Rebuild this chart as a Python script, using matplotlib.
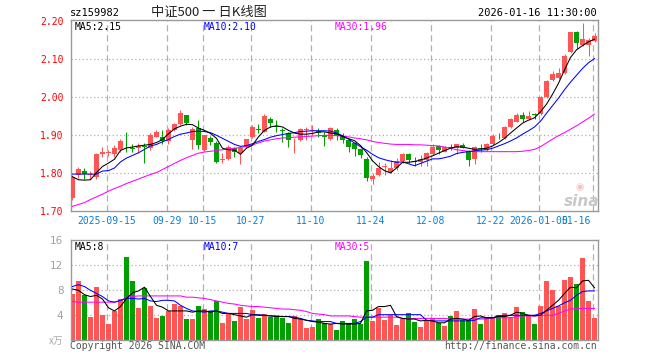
import matplotlib
matplotlib.use("Agg")
import matplotlib.pyplot as plt
import matplotlib.transforms as mtransforms
import numpy as np

# ---------------- data ----------------
date_labels = ["2025-09-15", "09-29", "10-15", "10-27", "11-10", "11-24",
               "12-08", "12-22", "2026-01-05", "01-16"]
date_index = [6, 16, 22, 30, 40, 50, 60, 70, 78, 87]

opens = [1.734, 1.796, 1.807, 1.795, 1.791, 1.850, 1.854, 1.851, 1.861, 1.878,
         1.866, 1.866, 1.873, 1.866, 1.896, 1.895, 1.886, 1.914, 1.930, 1.954,
         1.888, 1.918, 1.861, 1.894, 1.881, 1.836, 1.838, 1.866, 1.854, 1.868,
         1.896, 1.917, 1.910, 1.943, 1.924, 1.915, 1.905, 1.884, 1.888, 1.914,
         1.912, 1.911, 1.901, 1.889, 1.914, 1.898, 1.888, 1.879, 1.863, 1.838,
         1.786, 1.796, 1.816, 1.804, 1.814, 1.832, 1.850, 1.833, 1.831, 1.835,
         1.850, 1.872, 1.857, 1.868, 1.866, 1.875, 1.860, 1.837, 1.867, 1.861,
         1.877, 1.899, 1.892, 1.921, 1.936, 1.954, 1.942, 1.955, 1.956, 2.000,
         2.046, 2.050, 2.063, 2.120, 2.171, 2.138, 2.137, 2.149]
highs = [1.795, 1.817, 1.815, 1.806, 1.853, 1.868, 1.861, 1.874, 1.889, 1.910,
         1.876, 1.881, 1.880, 1.905, 1.914, 1.914, 1.920, 1.932, 1.967, 1.954,
         1.923, 1.940, 1.902, 1.897, 1.886, 1.853, 1.875, 1.870, 1.868, 1.890,
         1.927, 1.930, 1.955, 1.949, 1.940, 1.918, 1.910, 1.892, 1.920, 1.923,
         1.927, 1.920, 1.910, 1.923, 1.918, 1.905, 1.892, 1.883, 1.866, 1.844,
         1.802, 1.829, 1.826, 1.835, 1.839, 1.853, 1.853, 1.842, 1.848, 1.857,
         1.877, 1.875, 1.872, 1.876, 1.878, 1.879, 1.862, 1.872, 1.877, 1.879,
         1.903, 1.907, 1.925, 1.946, 1.960, 1.962, 1.965, 1.960, 2.004, 2.046,
         2.068, 2.076, 2.114, 2.173, 2.175, 2.196, 2.155, 2.168]
lows = [1.729, 1.787, 1.784, 1.786, 1.784, 1.842, 1.845, 1.844, 1.857, 1.855,
        1.855, 1.853, 1.828, 1.861, 1.895, 1.877, 1.877, 1.912, 1.926, 1.926,
        1.863, 1.864, 1.858, 1.875, 1.826, 1.826, 1.835, 1.844, 1.825, 1.866,
        1.892, 1.905, 1.908, 1.923, 1.910, 1.883, 1.868, 1.854, 1.886, 1.888,
        1.901, 1.896, 1.873, 1.888, 1.888, 1.879, 1.857, 1.846, 1.841, 1.780,
        1.772, 1.793, 1.796, 1.800, 1.809, 1.828, 1.828, 1.819, 1.818, 1.818,
        1.848, 1.851, 1.855, 1.861, 1.851, 1.866, 1.820, 1.825, 1.857, 1.859,
        1.874, 1.889, 1.890, 1.919, 1.934, 1.936, 1.940, 1.942, 1.954, 1.998,
        2.044, 2.047, 2.061, 2.117, 2.128, 2.135, 2.108, 2.146]
closes = [1.790, 1.811, 1.798, 1.797, 1.852, 1.857, 1.856, 1.866, 1.886, 1.876,
          1.865, 1.872, 1.868, 1.901, 1.910, 1.886, 1.914, 1.930, 1.960, 1.932,
          1.917, 1.875, 1.900, 1.883, 1.831, 1.838, 1.868, 1.857, 1.866, 1.889,
          1.923, 1.915, 1.952, 1.932, 1.922, 1.912, 1.888, 1.886, 1.917, 1.916,
          1.914, 1.906, 1.895, 1.920, 1.898, 1.888, 1.870, 1.863, 1.848, 1.787,
          1.794, 1.815, 1.818, 1.815, 1.833, 1.850, 1.835, 1.829, 1.838, 1.853,
          1.870, 1.862, 1.870, 1.867, 1.876, 1.866, 1.835, 1.868, 1.865, 1.877,
          1.898, 1.897, 1.921, 1.942, 1.954, 1.943, 1.951, 1.953, 2.002, 2.044,
          2.061, 2.065, 2.109, 2.171, 2.142, 2.153, 2.150, 2.161]
ma5 = [1.791, 1.783, 1.782, 1.783, 1.802, 1.818, 1.827, 1.837, 1.860, 1.867,
       1.869, 1.872, 1.874, 1.876, 1.881, 1.889, 1.904, 1.917, 1.924, 1.929,
       1.928, 1.919, 1.913, 1.905, 1.892, 1.866, 1.862, 1.861, 1.850, 1.866,
       1.874, 1.896, 1.913, 1.922, 1.925, 1.922, 1.913, 1.906, 1.903, 1.903,
       1.905, 1.909, 1.909, 1.906, 1.904, 1.897, 1.891, 1.886, 1.873, 1.855,
       1.833, 1.818, 1.807, 1.801, 1.814, 1.829, 1.829, 1.831, 1.835, 1.840,
       1.846, 1.853, 1.860, 1.866, 1.870, 1.869, 1.866, 1.863, 1.864, 1.866,
       1.872, 1.881, 1.892, 1.906, 1.919, 1.932, 1.940, 1.946, 1.962, 1.982,
       2.008, 2.037, 2.072, 2.105, 2.125, 2.136, 2.146, 2.153]
ma10 = [1.798, 1.798, 1.798, 1.798, 1.798, 1.806, 1.807, 1.814, 1.830, 1.840,
        1.847, 1.854, 1.863, 1.872, 1.876, 1.883, 1.889, 1.897, 1.903, 1.906,
        1.910, 1.911, 1.910, 1.907, 1.900, 1.892, 1.884, 1.876, 1.871, 1.873,
        1.878, 1.884, 1.889, 1.895, 1.899, 1.902, 1.905, 1.907, 1.910, 1.911,
        1.912, 1.912, 1.912, 1.911, 1.906, 1.899, 1.890, 1.880, 1.870, 1.861,
        1.850, 1.841, 1.836, 1.832, 1.829, 1.830, 1.825, 1.820, 1.826, 1.832,
        1.838, 1.838, 1.841, 1.845, 1.852, 1.855, 1.857, 1.859, 1.861, 1.862,
        1.866, 1.872, 1.878, 1.885, 1.893, 1.903, 1.912, 1.922, 1.937, 1.958,
        1.978, 1.998, 2.020, 2.040, 2.058, 2.076, 2.091, 2.102]
ma30 = [1.713, 1.718, 1.723, 1.731, 1.738, 1.745, 1.753, 1.760, 1.766, 1.773,
        1.779, 1.785, 1.791, 1.797, 1.802, 1.810, 1.818, 1.826, 1.834, 1.841,
        1.847, 1.853, 1.856, 1.858, 1.860, 1.862, 1.864, 1.866, 1.868, 1.871,
        1.875, 1.880, 1.885, 1.888, 1.891, 1.893, 1.894, 1.895, 1.896, 1.897,
        1.898, 1.899, 1.900, 1.900, 1.899, 1.898, 1.896, 1.893, 1.891, 1.888,
        1.884, 1.881, 1.879, 1.877, 1.876, 1.876, 1.876, 1.875, 1.875, 1.874,
        1.873, 1.872, 1.869, 1.866, 1.862, 1.860, 1.858, 1.857, 1.857, 1.857,
        1.857, 1.857, 1.857, 1.857, 1.857, 1.858, 1.860, 1.863, 1.870, 1.880,
        1.890, 1.899, 1.907, 1.916, 1.925, 1.935, 1.945, 1.956]

volume = [7.4, 9.5, 7.3, 3.8, 8.6, 4.0, 2.6, 4.7, 6.6, 13.3,
          9.5, 5.2, 8.3, 5.5, 3.5, 3.9, 4.7, 5.8, 5.5, 3.4,
          3.4, 5.5, 5.0, 4.7, 6.3, 2.8, 4.2, 3.1, 5.3, 3.4,
          4.8, 3.5, 4.2, 3.8, 3.9, 3.5, 2.8, 3.9, 3.4, 2.0,
          2.1, 3.4, 2.7, 2.6, 1.6, 3.1, 2.7, 3.4, 2.6, 12.7,
          3.1, 5.1, 3.2, 4.1, 2.4, 3.4, 4.3, 2.9, 2.1, 3.2,
          3.5, 2.8, 2.3, 3.9, 4.7, 3.2, 3.2, 5.0, 2.6, 3.8,
          3.8, 4.1, 4.4, 3.8, 5.3, 4.5, 3.9, 2.6, 5.5, 9.5,
          8.0, 5.5, 9.6, 10.1, 9.0, 13.1, 6.3, 3.6]
vma5 = [8.2, 8.0, 7.3, 7.0, 7.2, 6.6, 5.2, 4.7, 5.4, 6.7,
        7.6, 7.9, 8.5, 7.0, 5.6, 5.3, 4.7, 4.7, 4.7, 4.7,
        4.5, 4.7, 4.7, 4.5, 4.7, 4.3, 4.3, 4.1, 3.9, 3.7,
        4.1, 4.0, 4.0, 3.9, 3.8, 3.8, 3.8, 3.5, 3.4, 3.2,
        3.0, 2.9, 2.7, 2.6, 2.7, 2.6, 2.6, 2.6, 2.7, 4.7,
        4.8, 5.4, 5.4, 5.6, 3.8, 3.5, 3.4, 3.4, 3.1, 3.2,
        3.1, 2.8, 2.8, 3.4, 3.5, 3.4, 3.2, 3.8, 3.9, 3.6,
        3.6, 3.8, 3.8, 4.0, 4.5, 4.3, 4.0, 3.9, 4.0, 4.8,
        5.6, 6.4, 7.5, 8.5, 8.4, 9.5, 9.6, 8.4]
vma10 = [8.6, 8.9, 8.6, 8.0, 7.5, 7.0, 6.3, 6.1, 6.4, 6.7,
         6.7, 6.6, 6.7, 6.3, 6.2, 6.4, 6.4, 6.3, 5.6, 5.1,
         4.7, 4.6, 4.5, 4.7, 4.7, 4.5, 4.3, 4.3, 4.3, 4.3,
         4.1, 4.1, 4.0, 3.9, 3.9, 3.8, 3.8, 3.7, 3.5, 3.2,
         3.1, 3.0, 3.0, 3.0, 2.7, 2.7, 2.7, 2.7, 3.0, 3.7,
         3.7, 4.1, 4.1, 4.1, 4.1, 4.1, 4.1, 4.1, 4.1, 3.2,
         3.1, 3.1, 3.1, 3.1, 3.1, 3.1, 3.1, 3.2, 3.6, 3.6,
         3.6, 3.9, 4.0, 4.0, 4.0, 4.0, 4.0, 4.0, 4.3, 4.7,
         5.1, 5.5, 6.0, 6.4, 7.2, 7.8, 7.9, 7.9]
vma30 = [6.2, 6.1, 6.1, 6.1, 6.1, 6.1, 6.1, 6.1, 6.3, 6.9,
         7.0, 7.1, 7.1, 7.1, 7.1, 7.1, 7.1, 7.1, 7.1, 6.9,
         6.9, 6.8, 6.7, 6.5, 6.3, 6.1, 5.9, 5.8, 5.6, 5.5,
         5.4, 5.4, 5.3, 5.2, 5.1, 5.0, 5.0, 4.9, 4.8, 4.6,
         4.3, 4.2, 4.1, 3.9, 3.9, 3.9, 3.9, 3.8, 3.7, 3.7,
         3.7, 3.7, 3.7, 3.7, 3.7, 3.5, 3.5, 3.5, 3.5, 3.5,
         3.5, 3.5, 3.5, 3.4, 3.4, 3.4, 3.4, 3.4, 3.4, 3.4,
         3.6, 3.6, 3.6, 3.6, 3.8, 3.9, 3.9, 3.9, 4.0, 4.0,
         4.0, 4.3, 4.7, 5.0, 5.1, 5.1, 5.1, 5.1]

price_ticks = [1.70, 1.80, 1.90, 2.00, 2.10, 2.20]
vol_ticks = [4, 8, 12, 16]

# ---------------- style ----------------
W, H = 660, 360
RED = "#ff5555"
GREEN = "#00a000"
FRAME = "#999999"
GRID = "#b0b0b0"
MONO = "DejaVu Sans Mono"
CJK = ["Noto Sans CJK SC", "DejaVu Sans"]
LW = 0.75

fig = plt.figure(figsize=(W / 100, H / 100), dpi=100)
fig.patch.set_facecolor("white")


def px_axes(x0, y0, x1, y1):
    return fig.add_axes([x0 / W, 1 - y1 / H, (x1 - x0) / W, (y1 - y0) / H])


def ftext(x, y, s, **kw):
    fig.text(x / W, 1 - y / H, s, **kw)


L, R = 70.5, 597.7
ax = px_axes(L, 20.0, R, 211.3)
axv = px_axes(L, 240.3, R, 340.3)

n = len(closes)
idx = np.arange(n)
o = np.array(opens); c = np.array(closes)
hi = np.array(highs); lo = np.array(lows)
up = c >= o
cols = np.where(up, RED, GREEN)

xlim = (-0.33, 87.53)
grid_x = [i - 0.3 for i in date_index]

for a in (ax, axv):
    a.set_xlim(*xlim)
    for s in a.spines.values():
        s.set_color(FRAME)
        s.set_linewidth(1.0)
    a.tick_params(length=0)
    a.set_xticks([])
    for gx in grid_x:
        a.axvline(gx, color=GRID, lw=0.9, ls=(0, (5, 3)), zorder=0)

# ---- price panel ----
ax.set_ylim(1.70, 2.2035)
ax.set_yticks(price_ticks)
ax.set_yticklabels([f"{t:.2f}" for t in price_ticks], color="#ff0000",
                   fontsize=7, family=MONO)
ax.tick_params(axis="y", pad=5)
for t in price_ticks[1:-1]:
    ax.axhline(t, color=GRID, lw=0.9, ls=(0, (1, 2)), zorder=0)

ax.vlines(idx, lo, hi, colors=cols, lw=0.75, zorder=2)
body_lo = np.minimum(o, c)
body_h = np.maximum(np.abs(c - o), 0.0022)
ax.bar(idx, body_h, bottom=body_lo, width=0.82, color=cols, lw=0, zorder=3)

ax.plot(idx, ma30, color="#ff00ff", lw=LW, zorder=4)
ax.plot(idx, ma10, color="#0000ff", lw=LW, zorder=4)
ax.plot(idx, ma5, color="#000000", lw=LW, zorder=5)

# date labels
trans = mtransforms.blended_transform_factory(ax.transData, ax.transAxes)
for k, (gx, lab) in enumerate(zip(grid_x, date_labels)):
    if k == len(date_labels) - 1:
        ax.text(gx - 0.4, -0.052, lab, transform=trans, ha="right", va="center",
                color="#0a7fd6", fontsize=7, family=MONO)
    else:
        ax.text(gx, -0.052, lab, transform=trans, ha="center", va="center",
                color="#0a7fd6", fontsize=7, family=MONO)

# ---- volume panel ----
axv.set_ylim(0, 16)
axv.set_yticks(vol_ticks)
axv.set_yticklabels([str(t) for t in vol_ticks], color="#a0a0a0", fontsize=7.5)
axv.tick_params(axis="y", pad=5)
for t in vol_ticks[:-1]:
    axv.axhline(t, color=GRID, lw=0.9, ls=(0, (1, 2)), zorder=0)
axv.bar(idx, volume, width=0.82, color=cols, lw=0, zorder=2)
axv.plot(idx, vma30, color="#ff00ff", lw=LW, zorder=4)
axv.plot(idx, vma10, color="#0000ff", lw=LW, zorder=4)
axv.plot(idx, vma5, color="#000000", lw=LW, zorder=5)

# ---- texts ----
ftext(70, 13, "sz159982", fontsize=7.5, family=MONO, va="center", color="black")
ftext(209, 12.5, "中证500 一 日K线图", fontsize=9.5, family=CJK, va="center",
      ha="center", color="#222222")
ftext(597, 13, "2026-01-16 11:30:00", fontsize=7.5, family=MONO, va="center",
      ha="right", color="black")

ftext(74.5, 27, f"MA5:{ma5[-1]:.2f}", fontsize=7, family=MONO, va="center", color="black")
ftext(204, 27, f"MA10:{ma10[-1]:.2f}", fontsize=7, family=MONO, va="center", color="#0000ff")
ftext(334.5, 27, f"MA30:{ma30[-1]:.2f}", fontsize=7, family=MONO, va="center", color="#ff00ff")

ftext(74.5, 247, f"MA5:{int(vma5[-1])}", fontsize=7, family=MONO, va="center", color="black")
ftext(204, 247, f"MA10:{int(vma10[-1])}", fontsize=7, family=MONO, va="center", color="#0000ff")
ftext(334.5, 247, f"MA30:{int(vma30[-1])}", fontsize=7, family=MONO, va="center", color="#ff00ff")

ftext(63, 341, "x万", fontsize=7, family=CJK, va="center", ha="right",
      color="#aaaaaa", style="italic")
ftext(70, 346, "Copyright 2026 SINA.COM", fontsize=7, family=MONO, va="center",
      color="#555555")
ftext(597, 346, "http://finance.sina.com.cn", fontsize=7, family=MONO, va="center",
      ha="right", color="#555555")

# sina watermark
ftext(580, 187, "◉", fontsize=7, va="center", ha="center", color="#f2c4c4")
ftext(582, 201, "sina", fontsize=11, va="center", ha="center", color="#c8c8c8",
      style="italic", weight="bold")

fig.savefig("out.png", dpi=100, facecolor="white")
